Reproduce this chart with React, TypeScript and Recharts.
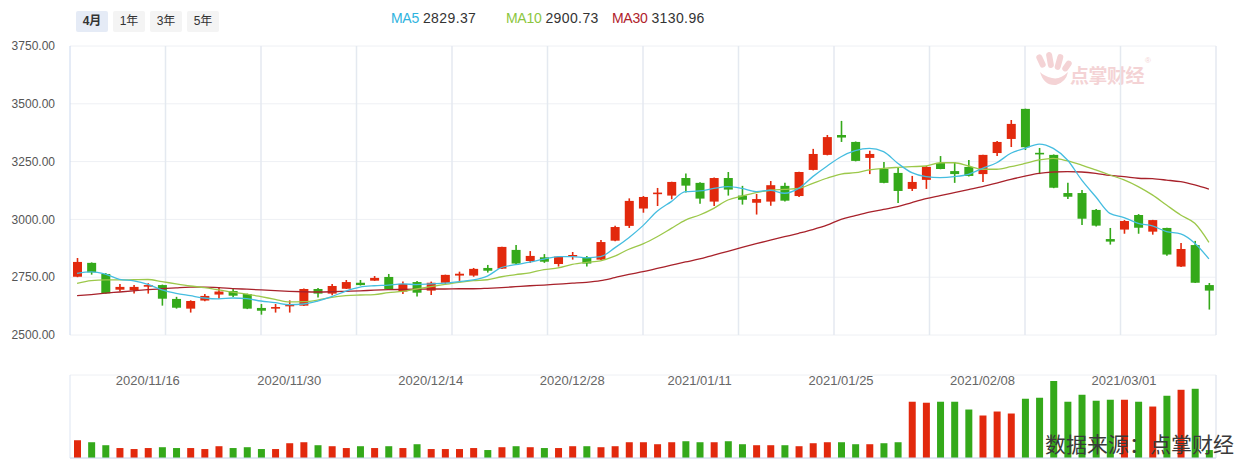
import React from 'react';
import { ComposedChart, Bar, Line, XAxis, YAxis, CartesianGrid, Cell } from 'recharts';

const dates = [
  '2020/11/09','2020/11/10','2020/11/11','2020/11/12','2020/11/13','2020/11/16','2020/11/17','2020/11/18','2020/11/19','2020/11/20',
  '2020/11/23','2020/11/24','2020/11/25','2020/11/26','2020/11/27','2020/11/30','2020/12/01','2020/12/02','2020/12/03','2020/12/04',
  '2020/12/07','2020/12/08','2020/12/09','2020/12/10','2020/12/11','2020/12/14','2020/12/15','2020/12/16','2020/12/17','2020/12/18',
  '2020/12/21','2020/12/22','2020/12/23','2020/12/24','2020/12/25','2020/12/28','2020/12/29','2020/12/30','2020/12/31','2021/01/04',
  '2021/01/05','2021/01/06','2021/01/07','2021/01/08','2021/01/11','2021/01/12','2021/01/13','2021/01/14','2021/01/15','2021/01/18',
  '2021/01/19','2021/01/20','2021/01/21','2021/01/22','2021/01/25','2021/01/26','2021/01/27','2021/01/28','2021/01/29','2021/02/01',
  '2021/02/02','2021/02/03','2021/02/04','2021/02/05','2021/02/08','2021/02/09','2021/02/10','2021/02/18','2021/02/19','2021/02/22',
  '2021/02/23','2021/02/24','2021/02/25','2021/02/26','2021/03/01','2021/03/02','2021/03/03','2021/03/04','2021/03/05','2021/03/08',
  '2021/03/09',
];

const opens = [
  2752,2812,2764,2696,2693,2709,2716,2656,2614,2649,
  2675,2690,2677,2617,2614,2627,2627,2699,2679,2700,
  2726,2735,2751,2688,2729,2692,2726,2757,2757,2790,
  2787,2868,2820,2836,2807,2839,2836,2826,2908,2972,
  3047,3113,3103,3179,3158,3077,3179,3103,3072,3077,
  3145,3101,3214,3279,3365,3335,3266,3218,3201,3132,
  3171,3244,3209,3227,3196,3287,3348,3478,3288,3279,
  3114,3114,3041,2915,2956,3019,2947,2963,2796,2889,
  2716,
];
const highs = [
  2833,2814,2768,2721,2716,2724,2718,2665,2650,2677,
  2708,2701,2679,2634,2634,2650,2701,2703,2721,2738,
  2738,2755,2764,2731,2734,2731,2761,2774,2790,2803,
  2882,2889,2863,2850,2841,2859,2842,2911,2972,3091,
  3101,3136,3163,3198,3161,3181,3205,3145,3110,3166,
  3158,3206,3305,3365,3426,3337,3297,3248,3222,3188,
  3231,3274,3248,3257,3280,3339,3430,3479,3309,3281,
  3158,3127,3045,2963,2997,3023,2998,2964,2898,2907,
  2725,
];
const lows = [
  2750,2761,2679,2688,2679,2679,2627,2614,2597,2646,
  2657,2664,2612,2588,2597,2597,2625,2662,2672,2699,
  2714,2734,2697,2677,2666,2673,2719,2734,2752,2770,
  2785,2806,2812,2812,2796,2826,2796,2824,2906,2963,
  3029,3058,3087,3116,3068,3058,3103,3064,3021,3059,
  3077,3097,3212,3277,3335,3251,3196,3156,3071,3123,
  3132,3217,3158,3186,3162,3274,3313,3300,3196,3135,
  3088,2976,2969,2891,2938,2938,2934,2843,2794,2725,
  2610,
];
const closes = [
  2816,2771,2680,2708,2708,2716,2657,2618,2647,2669,
  2688,2670,2614,2605,2621,2631,2699,2679,2712,2729,
  2716,2747,2699,2721,2683,2726,2760,2765,2786,2778,
  2881,2809,2842,2817,2839,2846,2809,2902,2967,3080,
  3097,3116,3162,3146,3090,3179,3129,3085,3088,3148,
  3081,3205,3283,3356,3354,3253,3283,3158,3123,3162,
  3227,3218,3196,3188,3279,3335,3413,3312,3286,3137,
  3098,3003,2973,2904,2993,2964,2997,2848,2872,2726,
  2692,
];

const ma5 = [
  2767,2773,2763,2741,2734,2719,2695,2680,2670,2660,
  2656,2660,2657,2647,2640,2631,2634,2647,2666,2690,
  2707,2713,2716,2721,2718,2721,2724,2731,2738,2755,
  2792,2804,2815,2828,2839,2839,2834,2839,2877,2921,
  2973,3035,3077,3120,3123,3134,3142,3134,3120,3126,
  3113,3134,3185,3230,3271,3297,3307,3293,3243,3202,
  3185,3181,3185,3195,3221,3245,3286,3307,3326,3307,
  3257,3171,3098,3026,3008,2983,2972,2947,2937,2897,
  2829,
];
const ma10 = [
  2723,2735,2738,2738,2739,2740,2731,2721,2712,2705,
  2695,2685,2677,2666,2654,2643,2644,2651,2663,2670,
  2673,2675,2683,2689,2699,2709,2719,2728,2735,2739,
  2752,2761,2769,2783,2790,2805,2814,2821,2841,2871,
  2894,2925,2961,2997,3019,3048,3084,3101,3116,3126,
  3130,3134,3156,3178,3196,3202,3214,3221,3225,3228,
  3231,3245,3245,3231,3217,3217,3228,3242,3257,3264,
  3253,3235,3214,3192,3171,3142,3106,3062,3019,2983,
  2901,
];
const ma30 = [
  2670,2675,2681,2686,2691,2696,2700,2704,2707,2707,
  2705,2701,2698,2695,2692,2689,2687,2686,2687,2689,
  2691,2694,2696,2697,2698,2699,2699,2700,2700,2702,
  2705,2709,2713,2716,2720,2724,2728,2735,2748,2762,
  2774,2788,2802,2816,2829,2846,2862,2879,2895,2910,
  2925,2940,2956,2975,3000,3016,3031,3043,3055,3073,
  3090,3103,3116,3129,3142,3157,3173,3187,3199,3205,
  3207,3205,3199,3190,3185,3178,3176,3170,3163,3149,
  3131,
];

const volumes = [
  107,95,77,60,54,60,65,60,60,54,
  71,60,65,54,54,89,95,77,71,60,
  71,60,71,60,83,54,54,54,60,48,
  65,71,65,60,60,71,71,65,71,95,
  95,83,95,101,95,95,101,83,77,77,
  77,71,89,95,95,83,83,89,95,339,
  333,339,339,292,256,280,268,357,363,464,
  339,381,345,351,351,339,310,375,411,417,
  48,
];

const priceTicks = [2500, 2750, 3000, 3250, 3500, 3750];
const volumeTicks = [0, 100, 200, 300, 400, 500];
const dateTicks = ['2020/11/16', '2020/11/30', '2020/12/14', '2020/12/28', '2021/01/11', '2021/01/25', '2021/02/08', '2021/03/01'];
const rangeButtons = ['4月', '1年', '3年', '5年'];
const maLegend = [
  { name: 'MA5', value: '2829.37', color: '#2fb3de', left: 391 },
  { name: 'MA10', value: '2900.73', color: '#8cc63e', left: 506 },
  { name: 'MA30', value: '3130.96', color: '#b0222b', left: 612 },
];

const RED = '#e2290d';
const GREEN = '#34a91a';
const FONT = 'Arial, "Liberation Sans", "Noto Sans CJK SC", sans-serif';

const data = dates.map((d, i) => ({
  date: d,
  open: opens[i],
  high: highs[i],
  low: lows[i],
  close: closes[i],
  range: [lows[i], highs[i]],
  ma5: ma5[i],
  ma10: ma10[i],
  ma30: ma30[i],
  volume: volumes[i],
}));

const Candle = (props: any) => {
  const { x, y, width, height, payload } = props;
  if (x == null || y == null) return null;
  const { open, close, high, low } = payload;
  const top = Math.min(y, y + height);
  const h = Math.abs(height);
  const span = high - low || 1;
  const py = (v: number) => top + ((high - v) / span) * h;
  const up = close >= open;
  const color = up ? RED : GREEN;
  const cx = x + width / 2;
  const bTop = py(Math.max(open, close));
  const bBot = py(Math.min(open, close));
  return (
    <g>
      <line x1={cx} x2={cx} y1={top} y2={top + h} stroke={color} strokeWidth={1.6} />
      <rect x={x} y={bTop} width={width} height={Math.max(1.6, bBot - bTop)} fill={color} />
    </g>
  );
};

const DateTick = (props: any) => {
  const { x, payload } = props;
  return (
    <text x={x} y={24.5} textAnchor="middle" fontSize={13} fill="#666" fontFamily={FONT}>
      {payload.value}
    </text>
  );
};

const Logo = () => (
  <svg width={40} height={36} style={{ position: 'absolute', left: 1034, top: 52 }}>
    <g fill="#f4d3d5">
      <rect x={4} y={2} width={6} height={14} rx={3} transform="rotate(-25 7 9)" />
      <rect x={13} y={0} width={6} height={16} rx={3} transform="rotate(-10 16 8)" />
      <rect x={22} y={2} width={6} height={16} rx={3} transform="rotate(15 25 10)" />
      <rect x={30} y={8} width={6} height={12} rx={3} transform="rotate(35 33 14)" />
      <path d="M6 20 Q10 34 22 33 Q32 30 34 20 Q26 28 18 26 Q10 24 6 20 Z" />
    </g>
  </svg>
);

export default function App() {
  return (
    <div style={{ position: 'absolute', left: 0, top: 0, width: 1241, height: 463, background: '#fff', fontFamily: FONT, overflow: 'hidden' }}>
      {rangeButtons.map((b, i) => (
        <div
          key={b}
          style={{
            position: 'absolute', left: 76 + i * 37, top: 11, width: 32, height: 21,
            background: i === 0 ? '#e5ebf6' : '#f4f4f4', borderRadius: 2,
            fontSize: 12, lineHeight: '21px', textAlign: 'center', color: '#333',
            fontWeight: i === 0 ? 'bold' : 'normal',
          }}
        >
          {b}
        </div>
      ))}
      {maLegend.map((m) => (
        <div key={m.name} style={{ position: 'absolute', left: m.left, top: 10, fontSize: 14, whiteSpace: 'nowrap' }}>
          <span style={{ color: m.color, letterSpacing: -0.3 }}>{m.name}</span>
          <span style={{ color: '#333', marginLeft: 4, letterSpacing: 0.4 }}>{m.value}</span>
        </div>
      ))}

      <Logo />
      <div style={{ position: 'absolute', left: 1070, top: 61, fontSize: 19, fontWeight: 'bold', color: '#f4d3d5', letterSpacing: -0.5 }}>
        点掌财经
      </div>
      <div style={{ position: 'absolute', left: 1145, top: 56, fontSize: 8, color: '#f4d3d5' }}>®</div>

      <div style={{ position: 'absolute', left: 0, top: 0 }}>
        <ComposedChart width={1241} height={345} data={data} margin={{ top: 46, right: 25, bottom: 10, left: 0 }}>
          <CartesianGrid stroke="#eef0f4" horizontal={true} vertical={false} />
          <CartesianGrid
            stroke="#e4e9f0"
            strokeWidth={1.5}
            horizontal={false}
            verticalCoordinatesGenerator={({ offset }: any) =>
              Array.from({ length: 12 }, (_, k) => offset.left + (offset.width * (k + 1)) / 12)
            }
          />
          <XAxis dataKey="date" type="category" hide />
          <YAxis
            width={70}
            domain={[2500, 3750]}
            ticks={priceTicks}
            tickFormatter={(v: number) => v.toFixed(2)}
            tickLine={false}
            tickSize={0}
            tickMargin={15}
            axisLine={{ stroke: '#cbd8ee' }}
            tick={{ fontSize: 12, fill: '#555', fontFamily: FONT }}
            allowDataOverflow
          />
          <Bar dataKey="range" barSize={9} shape={<Candle />} isAnimationActive={false} />
          <Line type="monotone" dataKey="ma30" stroke="#a8222b" strokeWidth={1.3} dot={false} isAnimationActive={false} />
          <Line type="monotone" dataKey="ma10" stroke="#9cc84a" strokeWidth={1.3} dot={false} isAnimationActive={false} />
          <Line type="monotone" dataKey="ma5" stroke="#45bde0" strokeWidth={1.3} dot={false} isAnimationActive={false} />
        </ComposedChart>
      </div>

      <div style={{ position: 'absolute', left: 0, top: 360 }}>
        <ComposedChart width={1241} height={103} data={data} margin={{ top: 15, right: 25, bottom: 4, left: 0 }}>
          <CartesianGrid stroke="#eef0f4" vertical={false} />
          <CartesianGrid
            stroke="#e4e9f0"
            strokeWidth={1.5}
            horizontal={false}
            verticalCoordinatesGenerator={({ offset }: any) => [offset.left + offset.width]}
          />
          <XAxis
            dataKey="date"
            type="category"
            height={1}
            ticks={dateTicks}
            interval={0}
            tickLine={false}
            axisLine={{ stroke: '#cbd8ee' }}
            tick={<DateTick />}
          />
          <YAxis width={70} domain={[0, 500]} ticks={volumeTicks} tick={false} tickLine={false} axisLine={{ stroke: '#dde5f2' }} />
          <Bar dataKey="volume" barSize={7} isAnimationActive={false}>
            {data.map((d) => (
              <Cell key={d.date} fill={d.close >= d.open ? RED : GREEN} />
            ))}
          </Bar>
        </ComposedChart>
      </div>

      <div style={{ position: 'absolute', left: 1045, top: 430, fontSize: 21, color: '#3a3a3a', whiteSpace: 'nowrap', fontFamily: '"Noto Sans CJK SC", sans-serif', lineHeight: '26px' }}>
        数据来源：点掌财经
      </div>
    </div>
  );
}
